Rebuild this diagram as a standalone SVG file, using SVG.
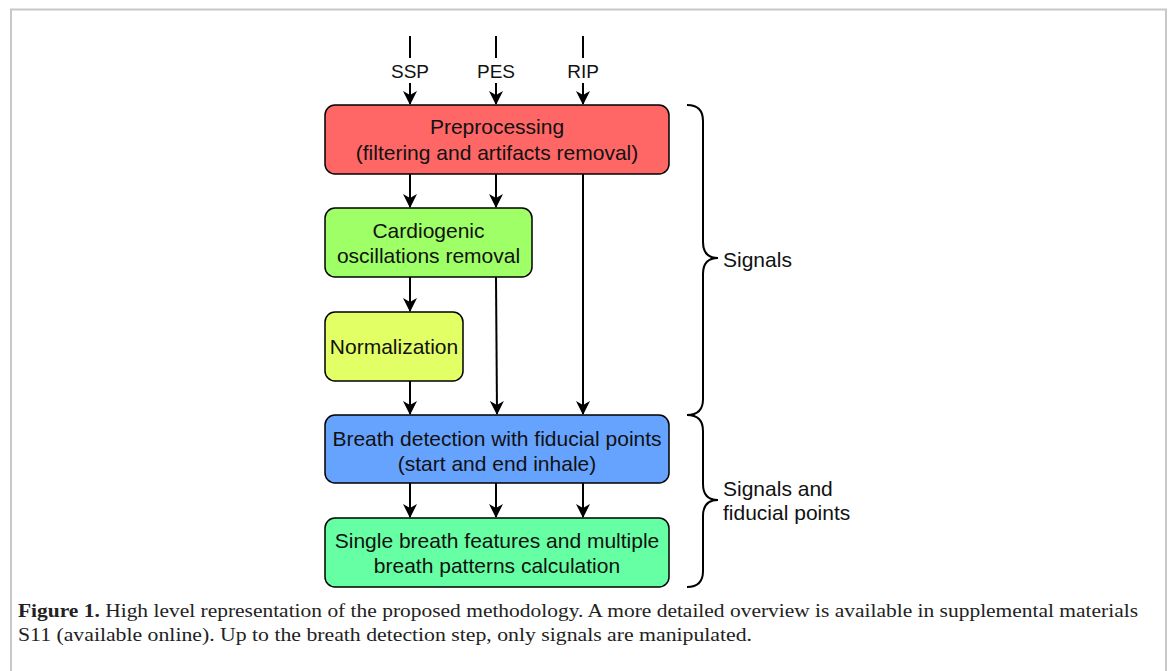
<svg xmlns="http://www.w3.org/2000/svg" width="1170" height="671" viewBox="0 0 1170 671">
<defs>
<marker id="ah" markerWidth="14" markerHeight="14" viewBox="0 0 14 14" refX="13" refY="7" orient="auto" markerUnits="userSpaceOnUse">
<path d="M0,0 L14,7 L0,14 L4,7 Z" fill="#000"/>
</marker>
<style>
.box{stroke:#000;stroke-width:1.5}
.t{font-family:"Liberation Sans",Arial,sans-serif;font-size:21px;fill:#111;text-anchor:middle}
.in{font-family:"Liberation Sans",Arial,sans-serif;font-size:19px;fill:#111;text-anchor:middle}
.lbl{font-family:"Liberation Sans",Arial,sans-serif;font-size:21px;fill:#111}
.c{stroke:#000;stroke-width:2;fill:none}
.a{stroke:#000;stroke-width:2;fill:none;marker-end:url(#ah)}
.cap{font-family:"Liberation Serif","Times New Roman",serif;font-size:19px;fill:#222}
</style>
</defs>
<rect x="0" y="0" width="1170" height="671" fill="#fff"/>
<path d="M11,680 V9.5 H1166 V680" fill="none" stroke="#c8c8c8" stroke-width="2"/>

<g id="connectors">
<line class="c" x1="410" y1="36" x2="410" y2="58"/>
<line class="c" x1="496" y1="36" x2="496" y2="58"/>
<line class="c" x1="583" y1="36" x2="583" y2="58"/>
<line class="a" x1="410" y1="83" x2="410" y2="104"/>
<line class="a" x1="496" y1="83" x2="496" y2="104"/>
<line class="a" x1="583" y1="83" x2="583" y2="104"/>
<line class="a" x1="410" y1="174" x2="410" y2="207"/>
<line class="a" x1="496" y1="174" x2="496" y2="207"/>
<line class="a" x1="583" y1="174" x2="583" y2="414"/>
<line class="a" x1="410" y1="277" x2="410" y2="311"/>
<line class="a" x1="410" y1="381" x2="410" y2="414"/>
<line class="a" x1="496" y1="277" x2="497" y2="414"/>
<line class="a" x1="410" y1="483" x2="410" y2="517"/>
<line class="a" x1="496" y1="483" x2="496" y2="517"/>
<line class="a" x1="583" y1="483" x2="583" y2="517"/>
</g>

<g id="inputs">
<text class="in" x="410" y="78">SSP</text>
<text class="in" x="496" y="78">PES</text>
<text class="in" x="583" y="78">RIP</text>
</g>

<g id="preprocessing">
<rect class="box" x="325" y="105" width="344" height="69" rx="10" fill="#ff6666"/>
<text class="t" x="497" y="134">Preprocessing</text>
<text class="t" x="497" y="160">(filtering and artifacts removal)</text>
</g>

<g id="cardiogenic">
<rect class="box" x="325" y="208" width="207" height="69" rx="10" fill="#9eff66"/>
<text class="t" x="428.5" y="238">Cardiogenic</text>
<text class="t" x="428.5" y="263">oscillations removal</text>
</g>

<g id="normalization">
<rect class="box" x="325" y="312" width="138" height="69" rx="10" fill="#e2ff66"/>
<text class="t" x="394" y="354">Normalization</text>
</g>

<g id="breath-detection">
<rect class="box" x="325" y="415" width="344" height="68" rx="10" fill="#66a3ff"/>
<text class="t" x="497" y="446">Breath detection with fiducial points</text>
<text class="t" x="497" y="471">(start and end inhale)</text>
</g>

<g id="features">
<rect class="box" x="325" y="518" width="344" height="69" rx="10" fill="#66ffa3"/>
<text class="t" x="497" y="548">Single breath features and multiple</text>
<text class="t" x="497" y="573">breath patterns calculation</text>
</g>

<g id="brace-signals">
<path class="c" d="M687,105 Q703,105 703,121 V242 Q703,258 718,258 Q703,258 703,274 V399 Q703,415 687,415"/>
<text class="lbl" x="723" y="267">Signals</text>
</g>

<g id="brace-fiducial">
<path class="c" d="M687,415 Q703,415 703,431 V484 Q703,500 718,500 Q703,500 703,516 V571 Q703,587 687,587"/>
<text class="lbl" x="723" y="496">Signals and</text>
<text class="lbl" x="723" y="520">fiducial points</text>
</g>

<g id="caption">
<text class="cap" x="18" y="617" textLength="1120" lengthAdjust="spacingAndGlyphs"><tspan font-weight="bold">Figure 1.</tspan> High level representation of the proposed methodology. A more detailed overview is available in supplemental materials</text>
<text class="cap" x="18" y="641" textLength="734" lengthAdjust="spacingAndGlyphs">S11 (available online). Up to the breath detection step, only signals are manipulated.</text>
</g>
</svg>
